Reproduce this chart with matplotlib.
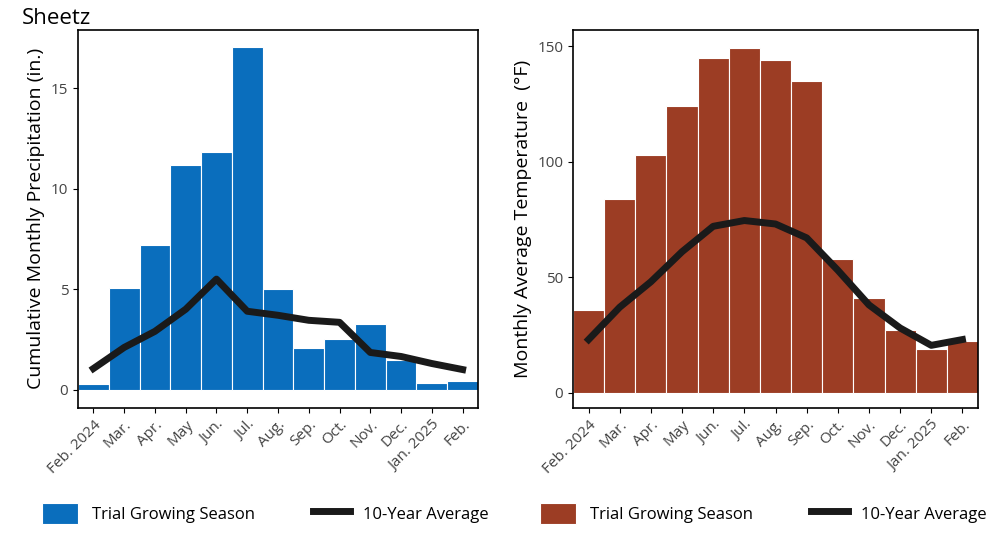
import matplotlib.pyplot as plt
import numpy as np

plt.rcParams['font.family'] = ['Open Sans', 'DejaVu Sans']

months = ['Feb. 2024', 'Mar.', 'Apr.', 'May', 'Jun.', 'Jul.', 'Aug.', 'Sep.',
          'Oct.', 'Nov.', 'Dec.', 'Jan. 2025', 'Feb.']
precip = [0.26, 5.05, 7.2, 11.2, 11.8, 17.05, 5.0, 2.05, 2.5, 3.26, 1.47, 0.35, 0.45]
precip_avg = [1.05, 2.1, 2.9, 4.0, 5.5, 3.9, 3.7, 3.45, 3.35, 1.85, 1.65, 1.3, 1.0]
temp = [36, 84, 103, 124, 145, 149, 144, 135, 58, 41, 27, 19, 22.5]
temp_avg = [23, 37, 48, 61, 72, 74.5, 73, 67, 53, 38, 28, 20.5, 23]

fig = plt.figure(figsize=(10, 5.33), dpi=100)
ax1 = fig.add_axes([0.078, 0.235, 0.4, 0.709])
ax2 = fig.add_axes([0.573, 0.235, 0.405, 0.709])

x = np.arange(len(months))

def panel(ax, bars, line, color, ylabel, yticks, legx):
    b = ax.bar(x, bars, width=1.0, color=color, edgecolor='white', linewidth=0.8)
    l, = ax.plot(x, line, color='#1a1a1a', linewidth=5)
    ax.set_xlim(-0.5, 12.5)
    ax.set_xticks(x)
    ax.set_xticklabels(months, rotation=45, ha='right', rotation_mode='anchor',
                       fontsize=11, color='#444444')
    ax.set_yticks(yticks)
    ax.tick_params(axis='y', labelsize=11, labelcolor='#444444')
    ax.set_ylabel(ylabel, fontsize=14)
    for s in ax.spines.values():
        s.set_linewidth(1.2)
    fig.legend([b, l], ['Trial Growing Season', '10-Year Average'],
               loc='center', bbox_to_anchor=(legx, 0.037), ncol=2,
               frameon=False, fontsize=12, handlelength=2.2, handleheight=1.6,
               columnspacing=3.5)

panel(ax1, precip, precip_avg, '#0a6ebd', 'Cumulative Monthly Precipitation (in.)',
      [0, 5, 10, 15], 0.265)
ax1.set_ylim(-0.9, 17.9)
panel(ax2, temp, temp_avg, '#9c3d24', 'Monthly Average Temperature  (°F)',
      [0, 50, 100, 150], 0.763)
ax2.set_ylim(-6.5, 157)

fig.text(0.022, 0.955, 'Sheetz', fontsize=16)
fig.savefig('out.png')
